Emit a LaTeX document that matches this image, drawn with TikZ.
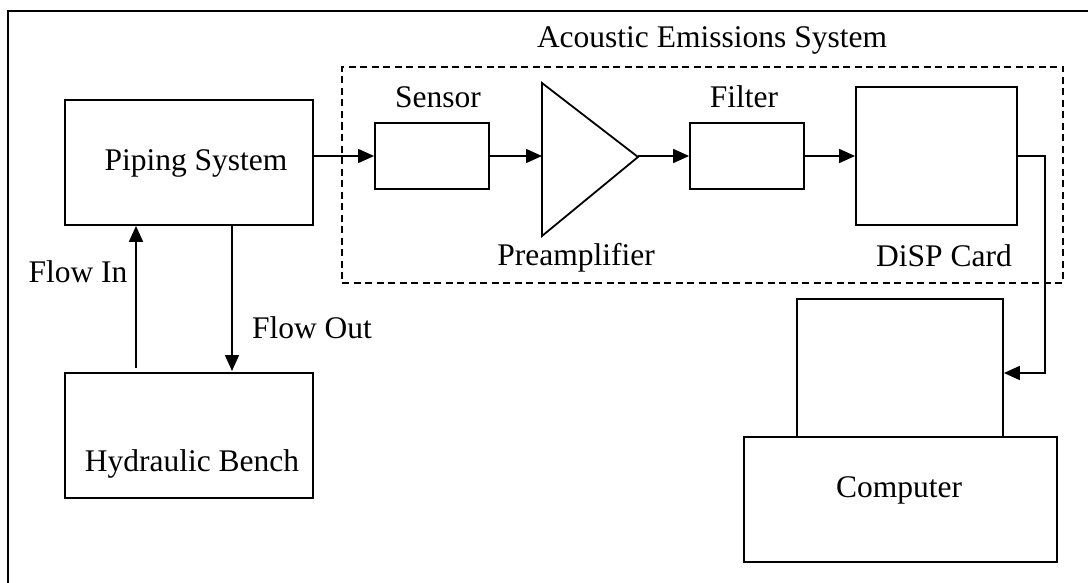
\documentclass[tikz,border=0pt]{standalone}
\usepackage{fontspec}
\setmainfont{Liberation Serif}
\usetikzlibrary{arrows.meta}
\begin{document}
\begin{tikzpicture}[x=1pt,y=-1pt,
  line width=1.8pt,
  font=\fontsize{31.5}{38}\selectfont,
  blk/.style={draw, inner sep=0pt, line width=1.8pt},
  lbl/.style={inner sep=0pt},
  arr/.style={-{Triangle[length=16pt,width=14pt]}, line width=1.8pt},
  grp/.style={draw, dash pattern=on 7pt off 4.5pt, line width=1.6pt}]
\useasboundingbox (0,0) rectangle (1088,583);
% outer frame (only top and left edges visible)
\draw (8,583) -- (8,11) -- (1088,11);
% dashed group
\node[grp, minimum width=721pt, minimum height=216pt, inner sep=0pt] (aes) at (702.5,175) {};
\node[lbl] (aeslbl) at (712,40) {Acoustic Emissions System};
% blocks
\node[blk, minimum width=248pt, minimum height=125pt] (piping) at (189,162.5) {};
\node[lbl] (pipinglbl) at (196,163) {Piping System};
\node[blk, minimum width=248pt, minimum height=125pt] (bench) at (189,435.5) {};
\node[lbl] (benchlbl) at (192,464) {Hydraulic Bench};
\node[blk, minimum width=114pt, minimum height=66pt] (sensor) at (432,156) {};
\node[lbl] (sensorlbl) at (438,97) {Sensor};
\coordinate (amptop) at (542,83);
\coordinate (ampbot) at (542,236);
\coordinate (amptip) at (638,157);
\coordinate (ampin) at (542,156);
\draw[line join=miter] (amptop) -- (ampbot) -- (amptip) -- cycle;
\node[lbl] (amplbl) at (576,258) {Preamplifier};
\node[blk, minimum width=114pt, minimum height=66pt] (filter) at (747,156) {};
\node[lbl] (filterlbl) at (744,97) {Filter};
\node[blk, minimum width=161pt, minimum height=138pt] (disp) at (936.5,156) {};
\node[lbl] (displbl) at (944,256) {DiSP Card};
\node[blk, minimum width=206pt, minimum height=138pt] (monitor) at (900,368) {};
\node[blk, minimum width=313pt, minimum height=125pt] (computer) at (900.5,499.5) {};
\node[lbl] (computerlbl) at (899,490) {Computer};
% flow labels
\node[lbl] (flowin) at (78,272) {Flow In};
\node[lbl] (flowout) at (312,328) {Flow Out};
% connectors
\coordinate (inbot) at (136,368);
\draw[arr] (inbot) -- (inbot |- piping.south);
\coordinate (outtop) at (232,225);
\coordinate (outend) at (232,371);
\draw[arr] (outtop) -- (outend);
\draw[arr] (piping.east |- sensor.west) -- (sensor.west);
\draw[arr] (sensor.east) -- (ampin);
\draw[arr] (amptip |- filter.west) -- (filter.west);
\draw[arr] (filter.east) -- (disp.west);
\coordinate (c1) at (1045,156);
\coordinate (c2) at (1045,373);
\draw[arr] (disp.east) -- (c1) -- (c2) -- (monitor.east |- c2);
\end{tikzpicture}
\end{document}
